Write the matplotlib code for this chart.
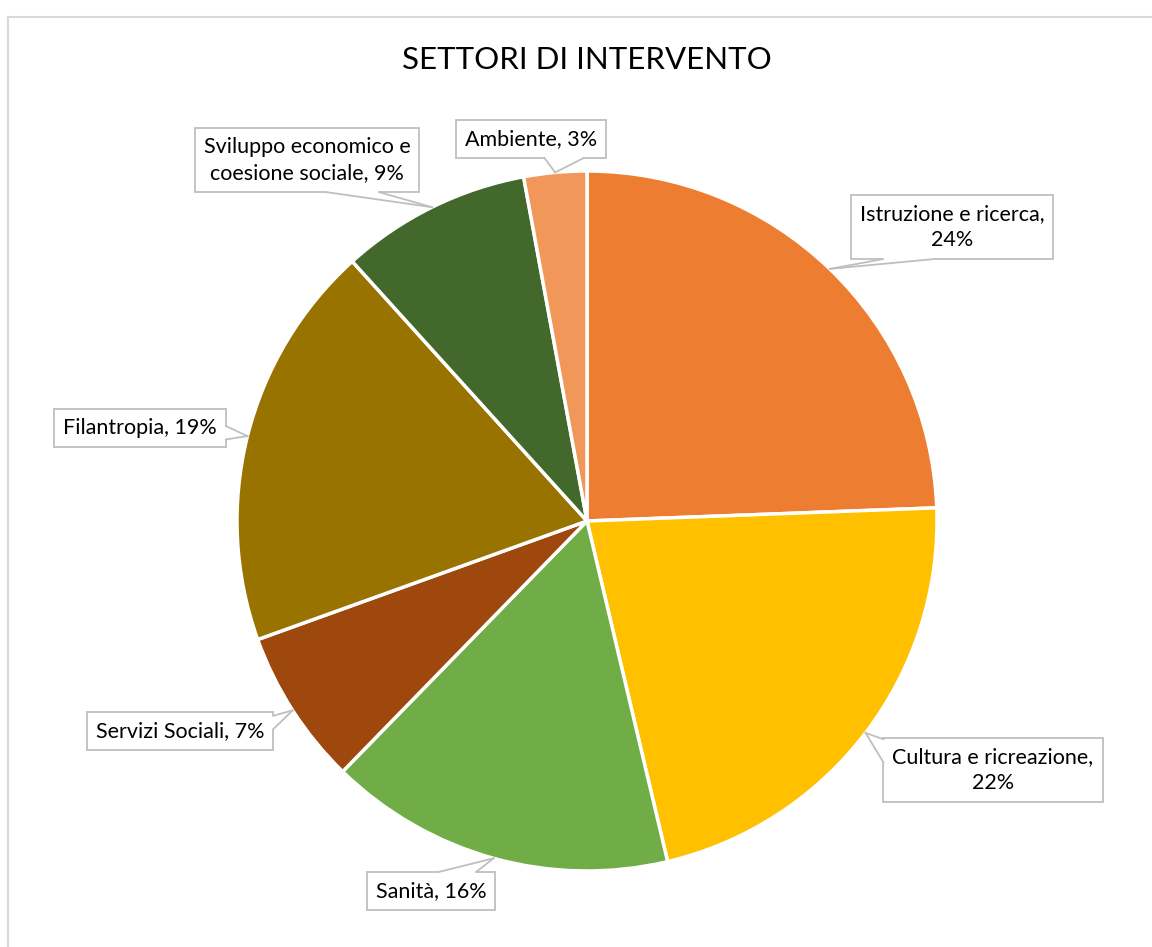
import numpy as np
import matplotlib
matplotlib.use("Agg")
import matplotlib.pyplot as plt
from matplotlib.patches import Rectangle, Polygon
from matplotlib.lines import Line2D
from matplotlib.transforms import IdentityTransform

plt.rcParams['font.family'] = ['Lato', 'DejaVu Sans']

# Data (clockwise from 12 o'clock)
sectors = ["Istruzione e ricerca", "Cultura e ricreazione", "Sanità", "Servizi Sociali",
           "Filantropia", "Sviluppo economico e\ncoesione sociale", "Ambiente"]
shares = [24.4, 21.9, 16.0, 7.2, 18.8, 8.8, 2.9]
colors = ["#ED7D31", "#FFC000", "#70AD47", "#9E480E", "#997300", "#43682B", "#F1975A"]
# label text layout (how each label wraps)
label_fmt = ["{name},\n{pct}", "{name},\n{pct}", "{name}, {pct}", "{name}, {pct}",
             "{name}, {pct}", "{name}, {pct}", "{name}, {pct}"]
# label box centres in pixels of the 1152x947 canvas
label_pos = [(952, 227), (993, 770), (431, 891), (180, 731), (140, 428), (307, 160), (531, 139)]
# callout pointer: box edge and span along that edge (fractions from left / from top)
pointer = [("bottom", 0.16, 0.41), ("left", 0.02, 0.38), ("top", 0.56, 0.85),
           ("right", 0.10, 0.45), ("right", 0.45, 0.80), ("bottom", 0.585, 0.82),
           ("bottom", 0.59, 0.85)]

W, H = 1152, 947
fig = plt.figure(figsize=(W / 100, H / 100), dpi=100)

# chart area border
fig.patches.append(Rectangle((8 / W, -0.1), 1.2, (H - 17) / H + 0.1, transform=fig.transFigure,
                             fill=False, ec="#D9D9D9", lw=1.5))

# pie centre (587, 521), radius 350 px
cx, cy, r = 587, 521, 350
ax = fig.add_axes([(cx - r) / W, (H - cy - r) / H, 2 * r / W, 2 * r / H])
wedges, _ = ax.pie(shares, colors=colors, startangle=90, counterclock=False, radius=1,
                   wedgeprops=dict(edgecolor="white", linewidth=2.5))
ax.set_xlim(-1, 1)
ax.set_ylim(-1, 1)
ax.set_aspect("equal")
ax.axis("off")

fig.text(cx / W, 1 - 60 / H, "SETTORI DI INTERVENTO", ha="center", va="center", fontsize=22.5)

texts = []
for w, name, share, fmt, (px, py) in zip(wedges, sectors, shares, label_fmt, label_pos):
    txt = fmt.format(name=name, pct="%d%%" % round(share))
    t = fig.text(px / W, 1 - py / H, txt, ha="center", va="center", fontsize=15.5,
                 multialignment="center", linespacing=1.38, zorder=5,
                 bbox=dict(boxstyle="square,pad=0.42", fc="white", ec="#BFBFBF", lw=1.3))
    texts.append(t)

fig.canvas.draw()
edge_col = "#BFBFBF"
for w, t, (side, f0, f1) in zip(wedges, texts, pointer):
    mid = np.deg2rad((w.theta1 + w.theta2) / 2)
    tip = ax.transData.transform((np.cos(mid), np.sin(mid)))
    bb = t.get_bbox_patch().get_window_extent()
    if side in ("bottom", "top"):
        yy = bb.y0 if side == "bottom" else bb.y1
        inward = 2 if side == "bottom" else -2
        a = (bb.x0 + f0 * bb.width, yy)
        b = (bb.x0 + f1 * bb.width, yy)
        ai = (a[0], yy + inward)
        bi = (b[0], yy + inward)
    else:
        xx = bb.x0 if side == "left" else bb.x1
        inward = 2 if side == "left" else -2
        a = (xx, bb.y1 - f0 * bb.height)
        b = (xx, bb.y1 - f1 * bb.height)
        ai = (xx + inward, a[1])
        bi = (xx + inward, b[1])
    fig.add_artist(Polygon([ai, a, tip, b, bi], closed=True, fc="white", ec="none",
                           transform=IdentityTransform(), zorder=6))
    for p in (a, b):
        fig.add_artist(Line2D([p[0], tip[0]], [p[1], tip[1]], color=edge_col, lw=1.3,
                              transform=IdentityTransform(), zorder=7))

fig.savefig("out.png", dpi=100)
